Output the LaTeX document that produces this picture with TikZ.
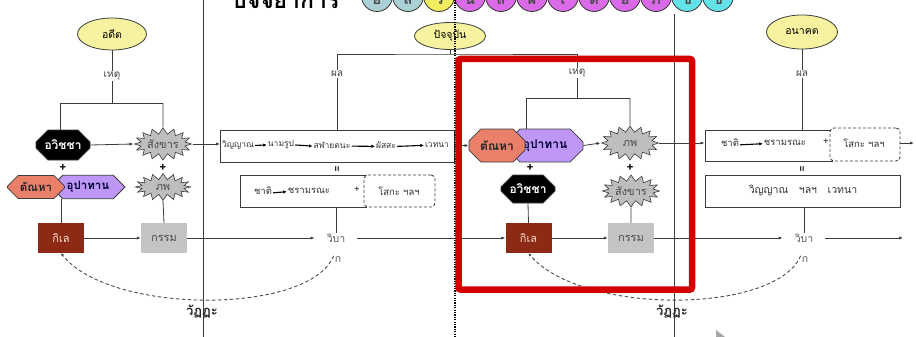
\documentclass[tikz,border=0pt]{standalone}
\usepackage{fontspec}
\setmainfont[Script=Thai]{Loma}
\usetikzlibrary{arrows.meta,shapes.misc,shapes.symbols,shapes.geometric}
\definecolor{lncol}{RGB}{60,60,60}
\definecolor{ellfill}{RGB}{246,242,160}
\definecolor{salmon}{RGB}{234,128,106}
\definecolor{purp}{RGB}{190,150,245}
\definecolor{kilefill}{RGB}{140,42,22}
\definecolor{kiletext}{RGB}{245,225,200}
\definecolor{kamfill}{RGB}{196,196,196}
\definecolor{starfill}{RGB}{190,190,190}
\definecolor{cgb}{RGB}{170,208,214}
\definecolor{cye}{RGB}{242,238,96}
\definecolor{cma}{RGB}{218,106,232}
\definecolor{ccy}{RGB}{100,226,234}
\definecolor{redbox}{RGB}{212,0,0}
\begin{document}
\begin{tikzpicture}[x=1pt,y=-1pt,
  every node/.style={inner sep=1pt},
  cline/.style={draw=lncol, line width=0.8pt},
  arr/.style={cline, -{Latex[length=4pt,width=3.2pt]}},
  sarr/.style={draw=black, line width=1.1pt, -{Latex[length=3.5pt,width=3.5pt]}},
  ell/.style={ellipse, draw=lncol, line width=0.8pt, fill=ellfill, inner sep=0pt, font=\fontsize{10.5}{12}\selectfont},
  lbl/.style={text=black!75, font=\fontsize{10}{11}\selectfont},
  boxtxt/.style={text=black!80, font=\fontsize{8.5}{10}\selectfont, inner sep=1pt},
  boxtxtb/.style={text=black!80, font=\fontsize{9.5}{11}\selectfont, inner sep=1pt},
  oct/.style={chamfered rectangle, chamfered rectangle xsep=7pt, chamfered rectangle ysep=7pt, draw=lncol, line width=0.8pt, inner sep=0pt, font=\fontsize{12}{14}\selectfont\bfseries},
  burst/.style={starburst, starburst points=16, starburst point height=6pt, random starburst=0, draw=lncol, fill=starfill, line width=0.6pt, inner sep=0pt, font=\fontsize{11}{13}\selectfont, text=black!70},
  sq/.style={rectangle, minimum width=46pt, minimum height=30pt, inner sep=0pt, font=\fontsize{11}{13}\selectfont},
  wib/.style={text=black!65, font=\fontsize{10.5}{12}\selectfont, inner ysep=1pt, inner xsep=12pt},
  wibk/.style={text=black!65, font=\fontsize{10.5}{12}\selectfont, inner sep=1pt},
  frame/.style={draw=lncol, line width=0.8pt, inner sep=0pt},
  dframe/.style={draw=lncol, line width=0.9pt, dash pattern=on 3pt off 2pt, rounded corners=4pt, fill=white, inner sep=0pt},
  dcurve/.style={draw=black!70, line width=0.9pt, dash pattern=on 3.5pt off 2.5pt, -{Latex[length=3pt,width=3pt]}},
  circ/.style={circle, draw=black!80, line width=0.8pt, minimum size=31pt, inner sep=0pt},
  eqs/.style={font=\fontsize{7}{7}\selectfont\sffamily\bfseries, inner sep=0pt},
  plus/.style={font=\bfseries\fontsize{12}{12}\selectfont, inner sep=0pt}
]
\useasboundingbox (0,0) rectangle (916,337);
\clip (0,0) rectangle (916,337);
\fill[white] (0,0) rectangle (916,337);

% title and circles
\node[anchor=base west, font=\fontsize{23}{25}\selectfont\bfseries] (title) at (231,9) {ปัจจยาการ};
\foreach \i/\c/\t in {0/cgb/อ,1/cgb/ส,2/cye/ว,3/cma/น,4/cma/ส,5/cma/ผ,6/cma/เ,7/cma/ต,8/cma/อ,9/cma/ภ,10/ccy/ช,11/ccy/ช}{
  \node[circ, fill=\c] (c\i) at ({377+31*\i},-4) {};
  \node[font=\fontsize{15}{15}\selectfont\bfseries, text=black!70] (ct\i) at ({377+31*\i},0) {\t};
}

% dividers
\draw[lncol, line width=0.9pt] (203,0) -- (203,337);
\draw[lncol, line width=0.9pt] (674,14) -- (674,337);

% ellipses
\node[ell, minimum width=69pt, minimum height=32pt] (adit) at (112,34) {อดีต};
\node[ell, minimum width=71pt, minimum height=27pt] (pacc) at (450,36) {ปัจจุบัน};
\node[ell, minimum width=71pt, minimum height=34pt] (anak) at (802,32) {อนาคต};

% labels
\node[lbl] (hetL) at (112,76) {เหตุ};
\node[lbl] (phalM) at (337,74) {ผล};
\node[lbl] (hetM) at (577,73) {เหตุ};
\node[lbl] (phalR) at (802,74) {ผล};

% ---------- left (past) ----------
\node[oct, fill=black, text=white, minimum width=54pt, minimum height=30pt] (avL) at (63,145) {อวิชชา};
\node[burst, minimum width=57pt, minimum height=32pt] (sankL) at (163,144) {สังขาร};
\node[plus] (plL1) at (63,168) {+};
\node[plus] (plL2) at (163,168) {+};
\node[oct, fill=purp, text=black!80!blue, minimum width=74pt, minimum height=23pt, chamfered rectangle xsep=6pt, chamfered rectangle ysep=6pt, font=\fontsize{11.5}{13}\selectfont\bfseries] (upaL) at (88,187) {อุปาทาน};
\node[oct, fill=salmon, text=black!85, minimum width=57pt, minimum height=23pt, chamfered rectangle xsep=6pt, chamfered rectangle ysep=6pt, font=\fontsize{11.5}{13}\selectfont\bfseries] (tanL) at (36,187) {ตัณหา};
\node[burst, minimum width=55pt, minimum height=27pt] (bhavL) at (163,187) {ภพ};
\node[sq, fill=kilefill, text=kiletext] (kileL) at (61,238) {กิเล};
\node[sq, fill=kamfill, text=black!70] (kamL) at (164,238) {กรรม};
\node[wib] (wibL1) at (336,238) {วิบา};
\node[wibk] (wibL2) at (338,260) {ก};

\coordinate (brL) at (112,103);
\coordinate (brLa) at (60,103);
\coordinate (brLb) at (163,103);
\draw[cline] (adit.south) -- (hetL.north);
\draw[cline] (hetL.south) -- (brL);
\draw[cline] (brLa) -- (brLb);
\draw[cline] (brLa) -- (brLa |- avL.north);
\draw[cline] (brLb) -- (sankL.north);
\draw[arr] (avL.east) -- (sankL.west);
\draw[arr] (sankL.east) -- (sankL.east -| 220,0);
\draw[cline] (tanL.south -| kileL.north) -- (kileL.north);
\draw[cline] (bhavL.south) -- (kamL.north);
\draw[arr] (kileL.east) -- (kamL.west);
\draw[arr] (kamL.east) -- (wibL1.west);

% ---------- middle boxes (present results) ----------
\node[frame, minimum width=234pt, minimum height=32pt] (boxA) at (337,146) {};
\node[boxtxt] (vin) at (238,145) {วิญญาณ};
\node[boxtxt] (nam) at (281,145) {นามรูป};
\node[boxtxt] (sal) at (332,145) {สฬายตนะ};
\node[boxtxt] (pha) at (386,145) {ผัสสะ};
\node[boxtxt] (wet) at (437,145) {เวทนา};
\draw[sarr] ([yshift=2pt]vin.base east) -- ([yshift=2pt]nam.base west);
\draw[sarr] ([yshift=2pt]nam.base east) -- ([yshift=2pt]sal.base west);
\draw[sarr] ([yshift=2pt]sal.base east) -- ([yshift=2pt]pha.base west);
\draw[sarr] ([yshift=2pt]pha.base east) -- ([yshift=2pt]wet.base west);
\node[eqs] (eqA) at (337,169) {II};
\node[frame, minimum width=126pt, minimum height=32pt] (boxB) at (303,191) {};
\node[dframe, minimum width=71pt, minimum height=32pt] (boxBd) at (399.5,191) {};
\node[boxtxtb] (chatB) at (263,191) {ชาติ};
\node[boxtxtb] (charB) at (309,191) {ชรามรณะ};
\node[boxtxtb] (plB) at (357,190) {+};
\node[boxtxtb] (sokB) at (399,191) {โสกะ ฯลฯ};
\draw[sarr] ([yshift=2pt]chatB.base east) -- ([yshift=2pt]charB.base west);

\coordinate (topM) at (450,54);
\draw[cline] (pacc.south) -- (topM);
\draw[cline] (phalM.north) |- (topM) -| (hetM.north);
\draw[cline] (phalM.south) -- (boxA.north -| phalM);
\draw[cline] (boxB.south -| wibL1) -- (wibL1.north);

% ---------- middle (present causes) ----------
\node[oct, fill=purp, text=black!80!blue, minimum width=76pt, minimum height=33pt] (upaM) at (545,145.5) {อุปาทาน};
\node[oct, fill=salmon, text=black!85, minimum width=56pt, minimum height=33pt] (tanM) at (497,145.5) {ตัณหา};
\node[burst, minimum width=57pt, minimum height=34pt] (bhavM) at (630,143) {ภพ};
\node[plus] (plM1) at (530,168) {+};
\node[plus] (plM2) at (630,168) {+};
\node[oct, fill=black, text=white, minimum width=54pt, minimum height=28pt] (avM) at (528,189) {อวิชชา};
\node[burst, minimum width=57pt, minimum height=32pt] (sankM) at (631,191) {สังขาร};
\node[sq, fill=kilefill, text=kiletext] (kileM) at (528.5,238) {กิเล};
\node[sq, fill=kamfill, text=black!70] (kamM) at (631,238) {กรรม};
\node[wib] (wibR1) at (804,238) {วิบา};
\node[wibk] (wibR2) at (805,260) {ก};

\coordinate (brM) at (577,98);
\coordinate (brMa) at (526,98);
\coordinate (brMb) at (630,98);
\draw[cline] (hetM.south) -- (brM);
\draw[cline] (brMa) -- (brMb);
\draw[cline] (brMa) -- (brMa |- tanM.north);
\draw[cline] (brMb) -- (bhavM.north);
\draw[arr] (boxA.east |- tanM) -- (tanM.west);
\draw[arr] (upaM.east) -- (bhavM.west);
\draw[cline] (avM.south) -- (kileM.north);
\draw[cline] (sankM.south) -- (kamM.north);
\draw[arr] (wibL1.east) -- (kileM.west);
\draw[arr] (kileM.east) -- (kamM.west);
\draw[arr] (kamM.east) -- (wibR1.west);

% ---------- right (future) ----------
\node[frame, minimum width=127pt, minimum height=31pt] (boxC) at (768.5,145.5) {};
\node[dframe, minimum width=70pt, minimum height=33pt] (boxCd) at (865,144.5) {};
\node[boxtxtb] (chatC) at (730,143) {ชาติ};
\node[boxtxtb] (charC) at (785,143) {ชรามรณะ};
\node[boxtxtb] (plC) at (826,142) {+};
\node[boxtxtb] (sokC) at (864,143) {โสกะ ฯลฯ};
\draw[sarr] ([yshift=2pt]chatC.base east) -- ([yshift=2pt]charC.base west);
\node[eqs] (eqC) at (802,169) {II};
\node[frame, minimum width=195pt, minimum height=32pt] (boxD) at (802.5,191) {};
\node[text=black!80, font=\fontsize{10.5}{12}\selectfont] (wdD) at (803,190) {วิญญาณ\ \ \ ฯลฯ\ \ \ เวทนา};

\coordinate (endT) at (914,143);
\coordinate (endB) at (903,238);
\draw[cline] (anak.south) -- (phalR.north);
\draw[cline] (phalR.south) -- (boxC.north -| phalR);
\draw[arr] (bhavM.east) -- (bhavM.east -| boxC.west);
\draw[arr] (boxCd.east |- endT) -- (endT);
\draw[cline] (boxD.south -| wibR1) -- (wibR1.north);
\draw[arr] (wibR1.east) -- (endB);

% cycles
\draw[dcurve] (wibL2.north west) .. controls (310,315) and (110,315) .. (kileL.south);
\draw[dcurve] (wibR2.north west) .. controls (775,315) and (580,315) .. (kileM.south);
\node[font=\fontsize{13}{14}\selectfont\bfseries, text=black!85] (watL) at (202,312) {วัฏฏะ};
\node[font=\fontsize{13}{14}\selectfont\bfseries, text=black!85] (watR) at (672,312) {วัฏฏะ};

% present-time marker
\draw[black, line width=1.1pt, dash pattern=on 1.2pt off 1.2pt] (455,0) -- (455,337);

% highlight frame
\draw[redbox, line width=6.5pt, rounded corners=2pt] (458.5,59) rectangle (692,289.5);

% mouse pointer
\fill[gray!70] (716,330) -- (725,337) -- (716,337) -- cycle;
\end{tikzpicture}
\end{document}
